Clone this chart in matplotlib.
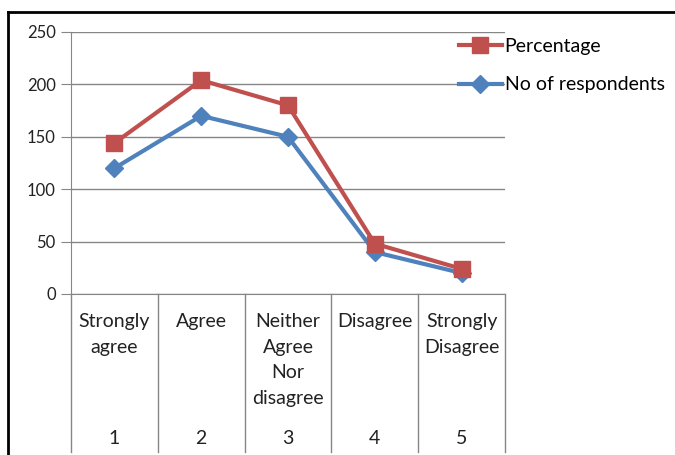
import matplotlib.pyplot as plt
import matplotlib.transforms as mtransforms
from matplotlib.lines import Line2D

categories = ["Strongly\nagree", "Agree", "Neither\nAgree\nNor\ndisagree", "Disagree", "Strongly\nDisagree"]
numbers = [1, 2, 3, 4, 5]
percentage = [144, 204, 180, 48, 24]
respondents = [120, 170, 150, 40, 20]

plt.rcParams['font.family'] = ['Lato', 'DejaVu Sans']
grey = '#868686'
red = '#C0504D'
blue = '#4F81BD'
txt = '#222222'

W, H = 675, 455
fig = plt.figure(figsize=(W / 100, H / 100), dpi=100)
ax = fig.add_axes([71 / W, (H - 294) / H, 434 / W, 262 / H])

l_resp, = ax.plot(numbers, respondents, color=blue, lw=3, marker='D', ms=9, zorder=3)
l_pct, = ax.plot(numbers, percentage, color=red, lw=3, marker='s', ms=12, zorder=4)

ax.set_xlim(0.5, 5.5)
ax.set_ylim(0, 250)
ax.set_yticks(range(0, 251, 50))
ax.yaxis.grid(True, color=grey, lw=1)
ax.set_axisbelow(True)
for s in ['top', 'right']:
    ax.spines[s].set_visible(False)
ax.spines['left'].set_color(grey)
ax.spines['bottom'].set_color(grey)
ax.tick_params(axis='y', length=7, color=grey, labelsize=12, pad=4, labelcolor=txt)
ax.set_xticks([])

# table-like category axis below the plot
trans = mtransforms.blended_transform_factory(ax.transData, ax.transAxes)
bottom = (294 - 452) / 262
for xs in [0.5, 1.5, 2.5, 3.5, 4.5, 5.5]:
    ax.add_line(Line2D([xs, xs], [0, bottom], transform=trans, color=grey, lw=1, clip_on=False))
for n, lab in zip(numbers, categories):
    ax.text(n, (294 - 313) / 262, lab, transform=trans, ha='center', va='top',
            fontsize=14, linespacing=1.62, color=txt)
    ax.text(n, (294 - 438) / 262, str(n), transform=trans, ha='center', va='center',
            fontsize=14, color=txt)

leg = ax.legend([l_pct, l_resp], ["Percentage", "No of respondents"], loc='upper left',
                bbox_to_anchor=(459 / W, 1 - 38 / H), bbox_transform=fig.transFigure,
                frameon=False, fontsize=14, handlelength=2.2, handletextpad=0.15,
                labelspacing=1.1, borderpad=0, borderaxespad=0)

# outer frame (top and left edges)
fig.add_artist(Line2D([8 / W, 1], [1 - 12 / H, 1 - 12 / H], color='black', lw=2))
fig.add_artist(Line2D([8 / W, 8 / W], [1 - 12 / H, 0], color='black', lw=2))

fig.savefig('out.png', dpi=100)
